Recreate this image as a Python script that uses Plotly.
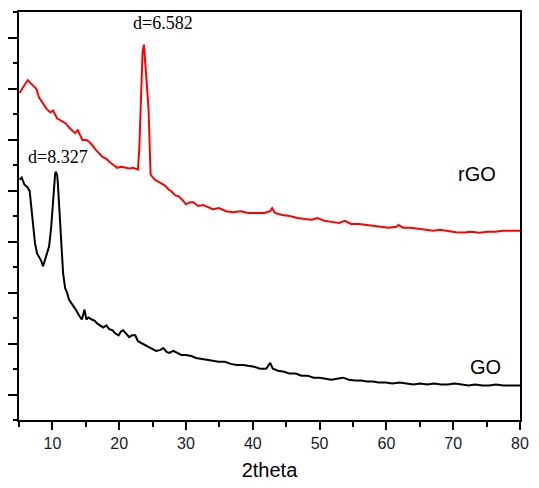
import plotly.graph_objects as go

# rGO pattern (2theta, intensity a.u.)
rgo_x = [5.1, 5.7, 6.3, 6.7, 7.1, 7.6, 8.0, 8.6, 9.1, 9.7, 10.1, 10.7, 11.3, 12.0, 12.6, 13.4, 13.8,
         14.5, 15.1, 15.7, 16.5, 17.0, 17.5, 18.1, 18.5, 19.1, 19.7, 20.3, 20.9, 21.5, 22.1, 22.8,
         23.0, 23.2, 23.5, 23.7, 23.8, 24.1, 24.4, 24.6, 24.7, 25.3, 26.1, 26.8, 27.4, 27.8, 28.4,
         28.9, 29.5, 30.0, 30.6, 31.1, 31.8, 32.6, 33.3, 34.0, 34.9, 36.0, 37.0, 38.2, 39.3, 40.5,
         41.7, 42.6, 42.9, 43.3, 44.4, 45.5, 46.7, 47.8, 48.8, 49.7, 50.7, 51.8, 52.9, 53.8, 54.7,
         55.9, 57.1, 58.1, 59.1, 60.3, 61.5, 61.8, 62.5, 63.6, 64.8, 65.9, 67.0, 68.0, 69.2, 70.4,
         71.6, 72.7, 73.9, 75.1, 76.3, 77.5, 78.6, 80.0]
rgo_y = [12.83, 13.06, 13.33, 13.22, 13.10, 12.99, 12.64, 12.41, 12.21, 12.06, 12.14, 11.83, 11.75,
         11.63, 11.44, 11.25, 11.36, 10.98, 10.98, 10.86, 10.59, 10.47, 10.32, 10.24, 10.13, 10.01,
         9.89, 9.93, 9.89, 9.86, 9.89, 9.82, 10.59, 12.52, 14.45, 14.72, 14.26, 13.29, 12.14, 10.20,
         9.62, 9.43, 9.31, 9.20, 9.04, 8.97, 8.81, 8.77, 8.62, 8.46, 8.54, 8.54, 8.39, 8.43, 8.35,
         8.27, 8.31, 8.19, 8.15, 8.19, 8.12, 8.12, 8.12, 8.19, 8.31, 8.12, 8.04, 8.00, 7.92, 7.88,
         7.85, 7.92, 7.81, 7.77, 7.73, 7.81, 7.69, 7.69, 7.65, 7.61, 7.58, 7.54, 7.58, 7.65, 7.54,
         7.54, 7.50, 7.46, 7.42, 7.46, 7.40, 7.36, 7.35, 7.38, 7.34, 7.38, 7.38, 7.42, 7.42, 7.42]

# GO pattern (2theta, intensity a.u.)
go_x = [5.1, 5.4, 5.8, 6.3, 6.6, 6.9, 7.1, 7.4, 7.7, 8.0, 8.3, 8.6, 8.9, 9.2, 9.5, 9.8, 10.1, 10.4,
        10.5, 10.7, 10.8, 11.0, 11.3, 11.4, 11.6, 11.9, 12.2, 12.5, 12.8, 13.2, 13.5, 13.9, 14.4,
        14.7, 14.8, 15.1, 15.4, 15.9, 16.3, 16.7, 17.2, 17.6, 18.1, 18.5, 19.0, 19.4, 19.9, 20.3,
        20.6, 21.0, 21.5, 21.9, 22.4, 22.8, 23.4, 23.8, 24.4, 25.0, 25.5, 26.1, 26.6, 27.1, 27.5,
        28.1, 28.7, 29.3, 30.0, 30.8, 31.5, 32.3, 33.1, 34.0, 34.9, 35.8, 36.7, 37.6, 38.5, 39.3,
        40.2, 41.1, 42.0, 42.6, 43.0, 43.8, 44.7, 45.5, 46.4, 47.3, 48.2, 49.1, 50.0, 50.9, 51.8,
        52.6, 53.5, 54.4, 55.3, 56.2, 57.1, 58.0, 58.8, 59.9, 60.9, 62.0, 63.0, 64.0, 65.1, 66.1,
        67.1, 68.2, 69.2, 70.2, 71.3, 72.3, 73.3, 74.4, 75.4, 76.4, 77.5, 78.5, 79.5, 80.0]
go_y = [9.43, 9.51, 9.24, 9.12, 8.97, 8.15, 7.61, 6.92, 6.53, 6.42, 6.26, 6.03, 6.26, 6.53, 6.80,
        7.50, 8.66, 9.62, 9.74, 9.62, 9.35, 8.46, 7.11, 6.26, 5.76, 5.18, 4.99, 4.71, 4.60, 4.48,
        4.33, 4.14, 3.94, 4.21, 4.33, 3.94, 4.02, 3.94, 3.90, 3.79, 3.71, 3.63, 3.71, 3.56, 3.52,
        3.40, 3.32, 3.48, 3.52, 3.40, 3.25, 3.32, 3.32, 3.09, 3.01, 2.94, 2.86, 2.78, 2.71, 2.74,
        2.82, 2.67, 2.63, 2.71, 2.63, 2.55, 2.55, 2.51, 2.43, 2.40, 2.36, 2.32, 2.28, 2.28, 2.20,
        2.16, 2.16, 2.13, 2.09, 2.01, 2.01, 2.24, 2.01, 1.93, 1.89, 1.82, 1.82, 1.74, 1.74, 1.66,
        1.66, 1.62, 1.58, 1.62, 1.66, 1.58, 1.55, 1.55, 1.51, 1.51, 1.47, 1.47, 1.43, 1.47, 1.43,
        1.39, 1.43, 1.39, 1.43, 1.39, 1.39, 1.43, 1.39, 1.35, 1.39, 1.35, 1.35, 1.39, 1.35, 1.35,
        1.35, 1.35]

x_ticks = [10, 20, 30, 40, 50, 60, 70, 80]

fig = go.Figure()
fig.add_trace(go.Scatter(x=rgo_x, y=rgo_y, mode="lines", name="rGO",
                         line=dict(color="#ff0000", width=2)))
fig.add_trace(go.Scatter(x=go_x, y=go_y, mode="lines", name="GO",
                         line=dict(color="#000000", width=2)))

ann_font_serif = dict(family="Liberation Serif, Times New Roman, serif", size=18, color="#000")
ann_font_sans = dict(family="Liberation Sans, Arial, sans-serif", size=20, color="#000")
for x, y, text, fnt in [(0.287, 0.973, "d=6.582", ann_font_serif),
                        (0.077, 0.645, "d=8.327", ann_font_serif),
                        (0.915, 0.604, "rGO", ann_font_sans),
                        (0.931, 0.130, "GO", ann_font_sans)]:
    fig.add_annotation(x=x, y=y, xref="paper", yref="paper", text=text,
                       xanchor="center", yanchor="middle", showarrow=False, font=fnt)

fig.update_layout(
    width=539, height=488,
    margin=dict(l=16, r=15, t=10, b=64),
    plot_bgcolor="white", paper_bgcolor="white",
    showlegend=False,
    font=dict(family="Liberation Sans, Arial, sans-serif", color="#1a1a2a"),
)
fig.update_xaxes(
    range=[5, 80], tickvals=x_ticks, ticks="outside", ticklen=8, tickwidth=2,
    tickcolor="black", showline=True, linewidth=2, linecolor="black", mirror=True,
    showgrid=False, zeroline=False, tickfont=dict(size=16),
    minor=dict(ticks="outside", ticklen=5, tickwidth=2, tickcolor="black",
               tick0=5, dtick=5, showgrid=False),
    title=dict(text="2theta", font=dict(size=20, color="#000"), standoff=12),
)
fig.update_yaxes(
    range=[0, 16], tick0=1, dtick=2, ticks="outside", ticklen=9, tickwidth=2,
    tickcolor="black", showticklabels=False, showline=True, linewidth=2,
    linecolor="black", mirror=True, showgrid=False, zeroline=False,
    minor=dict(ticks="outside", ticklen=4, tickwidth=2, tickcolor="black",
               tick0=0, dtick=1, showgrid=False),
)

fig.write_html(
    "out.html",
    config={"displayModeBar": False},
    post_script="document.body.style.margin='0';document.body.style.overflow='hidden';",
)
